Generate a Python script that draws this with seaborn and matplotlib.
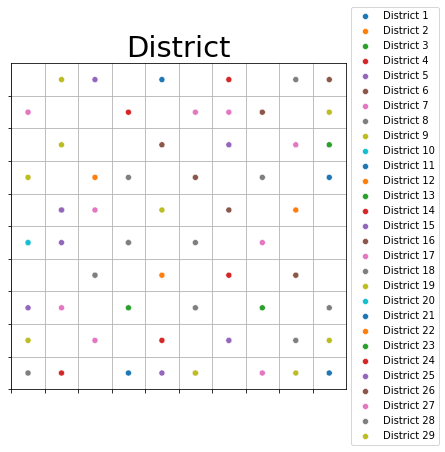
import pandas as pd
import seaborn as sns
import matplotlib.pyplot as plt

# district names and the grid cell (column, row counted from the bottom) of each point
districts = ["District %d" % i for i in range(1, 30)]
point_district = [1, 1, 2, 2, 3, 3, 4, 4, 5, 5, 5, 6, 6, 6,
                  7, 7, 7, 7, 8, 8, 8, 9, 9, 9, 10,
                  11, 12, 13, 14, 14, 15, 15, 15, 16, 16, 16, 17, 17, 17,
                  18, 18, 18, 18, 19, 19, 19, 20,
                  21, 22, 23, 24, 25, 25, 26, 26,
                  27, 27, 27, 27, 28, 28, 28, 29, 29, 29, 29]
point_col = [4, 3, 2, 5, 9, 2, 6, 4, 2, 6, 0, 9, 1, 3,
             0, 5, 6, 0, 8, 3, 2, 1, 1, 0, 0,
             9, 8, 3, 3, 1, 1, 1, 4, 7, 4, 5, 6, 8, 2,
             7, 3, 0, 9, 4, 0, 8, 0,
             9, 4, 7, 6, 0, 6, 6, 8,
             7, 1, 2, 7, 5, 5, 8, 9, 9, 5, 8]
point_row = [9, 0, 6, 0, 7, 3, 9, 1, 9, 7, 8, 9, 5, 4,
             8, 8, 1, 0, 9, 6, 3, 9, 7, 6, 4,
             6, 5, 2, 8, 0, 5, 4, 0, 8, 7, 6, 8, 7, 5,
             6, 4, 0, 2, 5, 1, 3, 4,
             0, 3, 2, 3, 2, 1, 5, 3,
             4, 2, 1, 0, 4, 2, 1, 8, 1, 0, 0]

df = pd.DataFrame({
    "District": [districts[d - 1] for d in point_district],
    "x": [c + 0.5 for c in point_col],
    "y": [r + 0.5 for r in point_row],
})

tab10 = sns.color_palette("tab10")
palette = [tab10[i % 10] for i in range(len(districts))]

fig = plt.figure(figsize=(445 / 72, 452 / 72), dpi=72)
ax = fig.add_axes([0.0254, 0.1387, 0.7521, 0.7213])
sns.scatterplot(data=df, x="x", y="y", hue="District", hue_order=districts,
                palette=palette, s=36, ax=ax)
ax.set_xlim(0, 10)
ax.set_ylim(0, 10)
ax.set_xticks(range(10))
ax.set_yticks(range(10))
ax.set_xticklabels([])
ax.set_yticklabels([])
ax.set_xlabel("")
ax.set_ylabel("")
ax.set_axisbelow(True)
ax.grid(True)
ax.set_title("District", fontsize=29)
sns.move_legend(ax, "center left", bbox_to_anchor=(1, 0.5), title=None)

fig.savefig("out.png", dpi=72)
